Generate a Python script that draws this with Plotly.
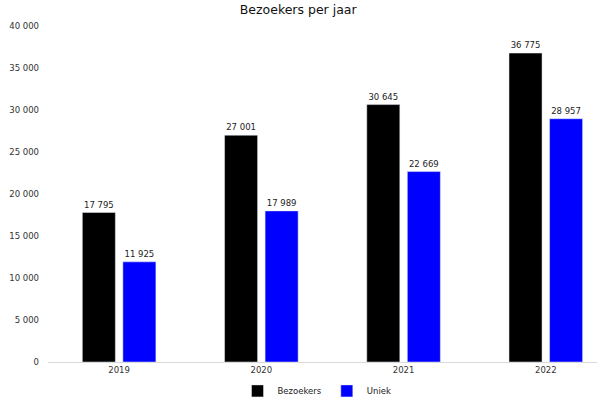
import plotly.graph_objects as go

jaren = ["2019", "2020", "2021", "2022"]
bezoekers = [17795, 27001, 30645, 36775]
uniek = [11925, 17989, 22669, 28957]
y_ticks = [0, 5000, 10000, 15000, 20000, 25000, 30000, 35000, 40000]

font = "DejaVu Sans, Verdana, sans-serif"

fig = go.Figure()
fig.add_trace(
    go.Bar(
        x=jaren,
        y=bezoekers,
        name="Bezoekers",
        marker_color="#000000",
        texttemplate="%{y:,d}",
        textposition="outside",
        textfont=dict(size=8.5, color="#222222"),
        cliponaxis=False,
    )
)
fig.add_trace(
    go.Bar(
        x=jaren,
        y=uniek,
        name="Uniek",
        marker_color="#0000ff",
        texttemplate="%{y:,d}",
        textposition="outside",
        textfont=dict(size=8.5, color="#222222"),
        cliponaxis=False,
    )
)

fig.update_layout(
    width=600,
    height=401,
    margin=dict(l=48, r=3, t=26, b=39, autoexpand=False),
    paper_bgcolor="white",
    plot_bgcolor="white",
    separators=", ",
    font=dict(family=font, size=8.5, color="#333333"),
    title=dict(
        text="Bezoekers per jaar",
        x=0.497,
        xanchor="center",
        y=0.975,
        yanchor="middle",
        font=dict(family=font, size=12.5, color="#111111"),
    ),
    barmode="group",
    bargap=0.43,
    bargroupgap=0.185,
    showlegend=True,
    legend=dict(
        orientation="h",
        x=0.49,
        xanchor="center",
        y=-0.086,
        yanchor="middle",
        font=dict(size=8.5, color="#222222"),
        itemwidth=30,
        traceorder="normal",
    ),
    xaxis=dict(
        type="category",
        range=[-0.5, 3.36],
        automargin=False,
        showgrid=False,
        showline=True,
        linecolor="#d9d9d9",
        linewidth=1,
        ticks="",
        tickfont=dict(size=8.5, color="#333333"),
    ),
    yaxis=dict(
        range=[0, 40000],
        tickvals=y_ticks,
        tickformat=",d",
        automargin=False,
        showgrid=False,
        zeroline=False,
        showline=False,
        ticks="",
        ticklabelstandoff=8,
        tickfont=dict(size=8.5, color="#333333"),
    ),
)

# drop the default body margin so the figure fills the window exactly
fig.write_html(
    "out.html",
    config={"displayModeBar": False},
    post_script="document.body.style.margin = '0px';",
)
